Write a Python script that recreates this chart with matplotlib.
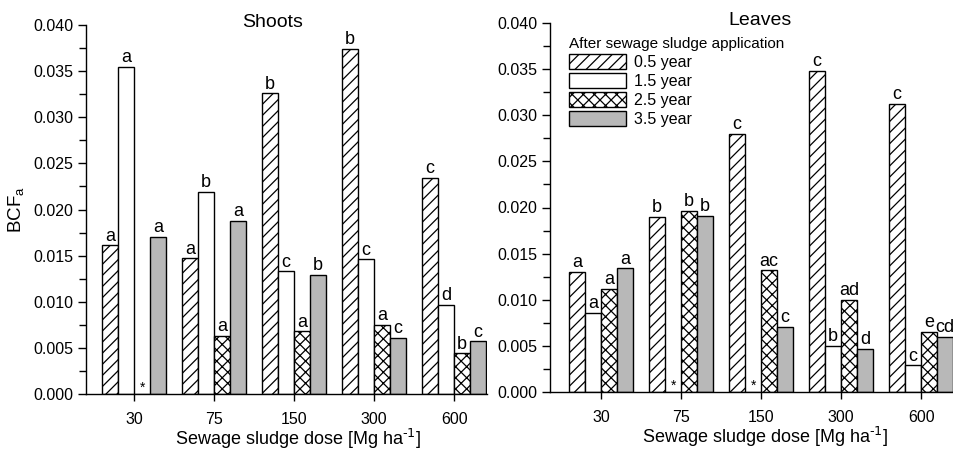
import matplotlib
matplotlib.use('Agg')
import matplotlib.pyplot as plt
import numpy as np

plt.rcParams['font.family'] = ['Liberation Sans', 'DejaVu Sans']
plt.rcParams['mathtext.default'] = 'regular'
plt.rcParams['hatch.linewidth'] = 0.9

# Data
doses = ['30', '75', '150', '300', '600']
years = ['0.5 year', '1.5 year', '2.5 year', '3.5 year']

shoots_05 = [0.0161, 0.0147, 0.0326, 0.0374, 0.0234]
shoots_15 = [0.0355, 0.0219, 0.0133, 0.0146, 0.0097]
shoots_25 = [0.0, 0.0063, 0.0068, 0.0075, 0.0044]
shoots_35 = [0.0170, 0.0188, 0.0129, 0.0061, 0.0057]

leaves_05 = [0.0130, 0.0190, 0.0280, 0.0348, 0.0312]
leaves_15 = [0.0086, 0.0, 0.0, 0.0050, 0.0029]
leaves_25 = [0.0112, 0.0196, 0.0132, 0.0100, 0.0065]
leaves_35 = [0.0134, 0.0191, 0.0071, 0.0047, 0.0060]

# significance letters ('*' marks a missing value)
shoots_lab_05 = ['a', 'a', 'b', 'b', 'c']
shoots_lab_15 = ['a', 'b', 'c', 'c', 'd']
shoots_lab_25 = ['*', 'a', 'a', 'a', 'b']
shoots_lab_35 = ['a', 'a', 'b', 'c', 'c']

leaves_lab_05 = ['a', 'b', 'c', 'c', 'c']
leaves_lab_15 = ['a', '*', '*', 'b', 'c']
leaves_lab_25 = ['a', 'b', 'ac', 'ad', 'e']
leaves_lab_35 = ['a', 'b', 'c', 'd', 'cd']

STYLES = [
    dict(facecolor='white', hatch='///'),
    dict(facecolor='white', hatch=None),
    dict(facecolor='white', hatch='xxx'),
    dict(facecolor='#b8b8b8', hatch=None),
]
WIDTH = 0.2
OFFSETS = [-0.3, -0.1, 0.1, 0.3]
XLABEL = 'Sewage sludge dose [Mg ha$^{\\text{-1}}$]'


def draw_panel(ax, series, labels, title, title_x):
    x = np.arange(len(doses))
    for vals, labs, style, off, name in zip(series, labels, STYLES, OFFSETS, years):
        ax.bar(x + off, vals, WIDTH, edgecolor='black', linewidth=1.0,
               label=name, **style)
        for xi, v, lab in zip(x + off, vals, labs):
            if lab == '*':
                ax.annotate('*', (xi, 0), xytext=(0, 1.5), textcoords='offset points',
                            ha='center', va='baseline', fontsize=10)
            else:
                ax.annotate(lab, (xi, v), xytext=(0, 0.5), textcoords='offset points',
                            ha='center', va='bottom', fontsize=13)

    ax.set_ylim(0, 0.04)
    ax.set_yticks(np.arange(0, 0.0401, 0.005))
    ax.set_yticks(np.arange(0.0025, 0.04, 0.005), minor=True)
    ax.yaxis.set_major_formatter(matplotlib.ticker.FormatStrFormatter('%.3f'))
    ax.set_xticks(x)
    ax.set_xticklabels(doses)
    ax.tick_params(axis='both', direction='out', labelsize=11.5, width=1.0)
    ax.tick_params(axis='y', which='major', length=6, pad=3)
    ax.tick_params(axis='y', which='minor', length=5, width=1.0)
    ax.tick_params(axis='x', length=5, pad=8)
    for s in ['top', 'right']:
        ax.spines[s].set_visible(False)
    for s in ['left', 'bottom']:
        ax.spines[s].set_linewidth(1.0)

    ax.text(title_x, 1.006, title, transform=ax.transAxes, ha='center',
            va='center', fontsize=14)
    ax.set_xlabel(XLABEL, fontsize=13)


fig = plt.figure(figsize=(9.54, 4.5), dpi=100)
ax1 = fig.add_axes([86 / 954, 1 - 394 / 450, 401 / 954, 369 / 450])
ax2 = fig.add_axes([550 / 954, 1 - 392 / 450, 404 / 954, 369 / 450])

draw_panel(ax1, [shoots_05, shoots_15, shoots_25, shoots_35],
           [shoots_lab_05, shoots_lab_15, shoots_lab_25, shoots_lab_35],
           'Shoots', 0.464)
ax1.set_xlim(-0.6, 4.41)
ax1.set_ylabel('BCF$_{a}$', fontsize=13.5, labelpad=5)
ax1.xaxis.set_label_coords(0.529, -0.09)

draw_panel(ax2, [leaves_05, leaves_15, leaves_25, leaves_35],
           [leaves_lab_05, leaves_lab_15, leaves_lab_25, leaves_lab_35],
           'Leaves', 0.519)
ax2.set_xlim(-0.64, 4.41)
ax2.xaxis.set_label_coords(0.533, -0.09)

leg = ax2.legend(loc='upper left', bbox_to_anchor=(0.047, 0.963), frameon=False,
                 title='After sewage sludge application', title_fontsize=11,
                 fontsize=11.5, handlelength=3.6, handleheight=1.05,
                 labelspacing=0.2, handletextpad=0.45, borderaxespad=0,
                 borderpad=0, alignment='left')

fig.savefig('out.png', dpi=100)
